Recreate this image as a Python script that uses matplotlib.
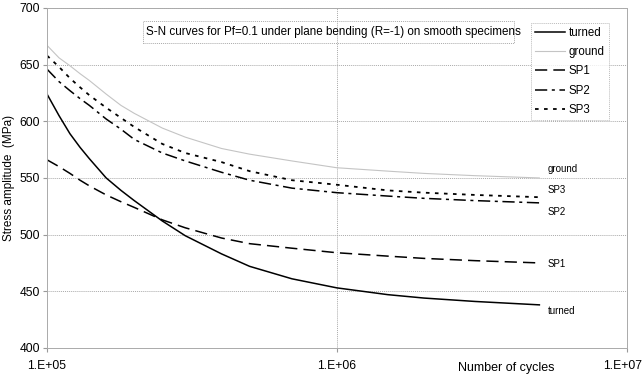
import matplotlib
matplotlib.use('Agg')
import matplotlib.pyplot as plt
import matplotlib.transforms as mtransforms
from matplotlib.patches import Rectangle

plt.rcParams['font.family'] = ['Liberation Sans', 'DejaVu Sans']

# Number of cycles at which the curves were read
N = [1e5, 1.1e5, 1.2e5, 1.3e5, 1.4e5, 1.6e5, 1.8e5, 2e5, 2.5e5, 3e5,
     4e5, 5e5, 7e5, 1e6, 1.5e6, 2e6, 3e6, 5e6]

turned = [624, 605, 589, 577, 567, 550, 539, 530, 512, 499,
          483, 472, 461, 453, 447, 444, 441, 438]
ground = [667, 656, 649, 642, 636, 624, 614, 607, 594, 586,
          576, 571, 565, 559, 556, 554, 552, 550]
sp1 = [566, 560, 554, 548, 543, 535, 529, 524, 513, 506,
       497, 492, 488, 484, 481, 479, 477, 475]
sp2 = [646, 635, 627, 620, 614, 602, 593, 584, 572, 565,
       555, 548, 541, 537, 534, 532, 530, 528]
sp3 = [658, 648, 638, 630, 623, 612, 603, 595, 580, 572,
       564, 556, 548, 544, 539, 537, 535, 533]

names = ['turned', 'ground', 'SP1', 'SP2', 'SP3']
series = [turned, ground, sp1, sp2, sp3]
styles = [
    dict(color='black', lw=1.1, ls='-'),
    dict(color='#c4c4c4', lw=0.8, ls='-'),
    dict(color='black', lw=1.1, ls=(0, (8, 4))),
    dict(color='black', lw=1.1, ls=(0, (8, 3, 2, 3))),
    dict(color='black', lw=1.3, ls=(0, (2, 3))),
]

fig = plt.figure(figsize=(6.44, 3.79), dpi=100)
ax = fig.add_axes([0.073, 0.082, 0.9, 0.897])

for name, s, st in zip(names, series, styles):
    ax.plot(N, s, label=name, **st)

ax.set_xscale('log')
ax.set_xlim(1e5, 1e7)
ax.set_ylim(400, 700)
ax.set_yticks(range(400, 701, 50))
ax.set_xticks([1e5, 1e6, 1e7])
ax.set_xticklabels(['1.E+05', '1.E+06', '1.E+07'])
ax.minorticks_off()
ax.tick_params(labelsize=8.7, length=3, color='#999999', pad=2)
ax.tick_params(axis='x', pad=6)
# last x label sits right at the figure edge; nudge it in a little
last = ax.get_xticklabels()[-1]
last.set_transform(last.get_transform() +
                   mtransforms.ScaledTranslation(-4 / 100, 0, fig.dpi_scale_trans))

gcol = '#aaaaaa'
for v in range(450, 701, 50):
    ax.axhline(v, color=gcol, lw=0.7, ls=(0, (1, 1)), zorder=0)
ax.axvline(1e6, color=gcol, lw=0.7, ls=(0, (1, 1)), zorder=0)
for sp in ax.spines.values():
    sp.set_color(gcol)
    sp.set_linestyle((0, (1, 1)))
    sp.set_linewidth(0.7)

ax.set_ylabel('Stress amplitude  (MPa)', fontsize=8.5)
ax.yaxis.set_label_coords(-0.056, 0.5)
ax.text(0.793, -0.06, 'Number of cycles', transform=ax.transAxes,
        fontsize=9, ha='center', va='center')

# curve labels at the right end
lab_y = {'ground': 558, 'SP3': 539, 'SP2': 520, 'SP1': 474, 'turned': 433}
for name in names:
    ax.text(5.35e6, lab_y[name], name, fontsize=7, va='center', ha='left')

# title box (text clipped by its frame, as in the original)
box = Rectangle((0.166, 0.896), 0.64, 0.065, transform=ax.transAxes,
                fill=False, ec=gcol, lw=0.7, ls=(0, (1, 1)))
ax.add_patch(box)
t = ax.text(0.171, 0.928, 'S-N curves for Pf=0.1 under plane bending (R=-1) on smooth specimens',
            transform=ax.transAxes, fontsize=8.4, va='center', ha='left')
t.set_clip_path(box)

leg = ax.legend(loc='upper right', bbox_to_anchor=(0.97, 0.957), fontsize=8.3,
                frameon=True, fancybox=False, handlelength=2.6, handletextpad=0.3,
                labelspacing=0.62, borderpad=0.4, borderaxespad=0)
leg.get_frame().set_edgecolor(gcol)
leg.get_frame().set_linestyle((0, (1, 1)))
leg.get_frame().set_linewidth(0.7)

fig.savefig('out.png', dpi=100)
